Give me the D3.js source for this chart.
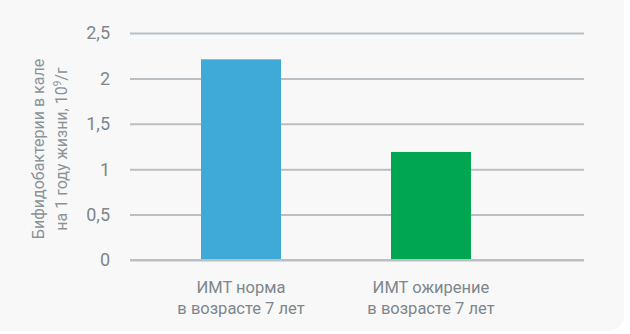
<!DOCTYPE html>
<html lang="ru">
<head>
<meta charset="utf-8">
<title>Бифидобактерии</title>
<script src="https://cdn.jsdelivr.net/npm/d3@7/dist/d3.min.js"></script>
<style>
  body { margin: 0; background: #fff; }
  svg { display: block; font-family: Roboto, "Noto Sans", sans-serif; }
  .grid line { stroke: #babfc3; stroke-width: 2; }
  .grid .domain { display: none; }
  text.ytick { fill: #7d878d; font-size: 18px; }
  text.xlab { fill: #7d878d; font-size: 16.5px; }
  text.ytitle { fill: #8a9499; font-size: 16px; }
</style>
</head>
<body>
<script>
var categories = [["ИМТ норма", "в возрасте 7 лет"], ["ИМТ ожирение", "в возрасте 7 лет"]];
var values = [2.21, 1.19];
var colors = ["#3fa9d8", "#00a651"];
var yTicks = [0, 0.5, 1, 1.5, 2, 2.5];

var w = 630, h = 334;
var svg = d3.select("body").append("svg").attr("width", w).attr("height", h);

// card background
svg.append("rect")
  .attr("x", -20).attr("y", -20)
  .attr("width", 644).attr("height", 351)
  .attr("rx", 16)
  .attr("fill", "#f8f8f8");

var yScale = d3.scaleLinear().domain([0, 2.5]).range([260, 33]);
var xScale = d3.scaleBand()
  .domain(d3.range(categories.length))
  .range([146, 526])
  .paddingInner(110 / 190)
  .paddingOuter(55 / 190);

// gridlines
var gridAxis = d3.axisLeft(yScale).tickValues(yTicks).tickSize(-(584 - 130)).tickFormat("");
svg.append("g")
  .attr("class", "grid")
  .attr("transform", "translate(130,0)")
  .call(gridAxis);

// tick labels
svg.selectAll("text.ytick")
  .data(yTicks)
  .enter()
  .append("text")
  .attr("class", "ytick")
  .attr("x", 110)
  .attr("y", function(d) { return yScale(d); })
  .attr("dy", "0.36em")
  .attr("text-anchor", "end")
  .text(function(d) { return String(d).replace(".", ","); });

// bars
svg.selectAll(".bar")
  .data(values)
  .enter()
  .append("rect")
  .attr("class", "bar")
  .attr("x", function(d, i) { return xScale(i); })
  .attr("y", function(d) { return yScale(d); })
  .attr("width", xScale.bandwidth())
  .attr("height", function(d) { return yScale(0) - yScale(d); })
  .attr("fill", function(d, i) { return colors[i]; });

// baseline over bars
svg.append("line")
  .attr("x1", 130).attr("x2", 584)
  .attr("y1", yScale(0)).attr("y2", yScale(0))
  .attr("stroke", "#babfc3").attr("stroke-width", 2);

// category labels
var lab = svg.selectAll("text.xlab")
  .data(categories)
  .enter()
  .append("text")
  .attr("class", "xlab")
  .attr("text-anchor", "middle");
lab.append("tspan")
  .attr("x", function(d, i) { return xScale(i) + xScale.bandwidth() / 2; })
  .attr("y", 293)
  .text(function(d) { return d[0]; });
lab.append("tspan")
  .attr("x", function(d, i) { return xScale(i) + xScale.bandwidth() / 2; })
  .attr("y", 314)
  .text(function(d) { return d[1]; });

// y title
var yt = svg.append("text")
  .attr("class", "ytitle")
  .attr("text-anchor", "middle")
  .attr("transform", "translate(44,149) rotate(-90)");
yt.append("tspan").attr("x", 0).attr("y", 0).text("Бифидобактерии в кале");
yt.append("tspan").attr("x", 0).attr("y", 23).text("на 1 году жизни, 10");
yt.append("tspan").attr("dy", -6).attr("font-size", "10px").text("9");
yt.append("tspan").attr("dy", 6).text("/г");
</script>
</body>
</html>
